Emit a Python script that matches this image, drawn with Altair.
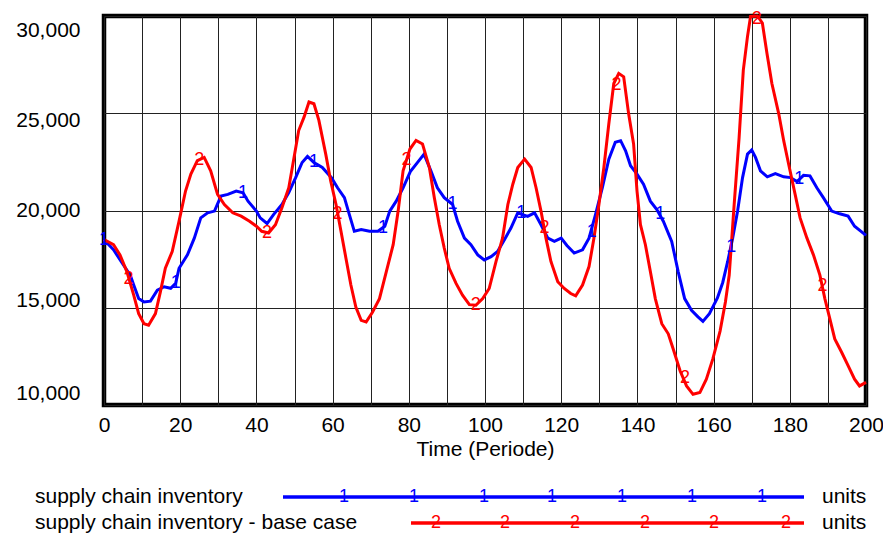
import altair as alt
import pandas as pd

# ---- data ----
blue_t = [0, 2.5, 5.1, 6.9, 7.8, 9.1, 10.5, 12.2, 14, 15.8, 17.5, 18.8, 19.7, 21.9, 23.7, 25.4, 27.2, 29,
          30.7, 32.5, 34.7, 36.5, 37.8, 40, 41, 42.8, 44.5, 46.7, 48.5, 50.3, 52, 53.4, 55.1, 57.3, 59.7,
          61.3, 63.1, 64.4, 65.7, 67.5, 69.7, 71.9, 73.7, 75, 76.7, 78.5, 80.4, 82.2, 84, 85.8, 87.5,
          89.3, 91.5, 92.8, 94.6, 96.3, 98.1, 99.8, 101.6, 103.3, 105.1, 106.8, 108.6, 109.9, 111.2, 113,
          114.7, 116.5, 118.2, 120, 121.5, 123.4, 125.6, 127.3, 129, 130.8, 132.5, 134.2, 135.6, 136.9,
          138.2, 139.9, 141.6, 143.4, 145.1, 146.8, 149, 150.7, 152.4, 154.2, 155.9, 157.2, 158.9, 161,
          162.4, 163.7, 165, 166.3, 167.6, 168.9, 170, 171, 172.3, 174.1, 176.2, 178.4, 180.2, 181.9,
          183.6, 185.3, 187.1, 188.8, 191, 193.1, 195.3, 197, 198.7, 200]
blue_v = [18500, 17980, 17200, 16680, 16170, 15475, 15300, 15340, 15900, 16080, 16000, 16250, 17030, 17720,
          18580, 19620, 19880, 19970, 20740, 20830, 21000, 20910, 20480, 19970, 19620, 19330, 19790, 20310,
          20920, 21690, 22470, 22780, 22470, 22210, 21690, 21170, 20660, 19790, 18930, 19020, 18930, 18930,
          19190, 19970, 20480, 21170, 22000, 22450, 22900, 22040, 21170, 20660, 20310, 19450, 18580, 18240,
          17720, 17460, 17630, 17890, 18500, 19100, 19880, 19790, 19700, 19880, 19270, 18580, 18410, 18580,
          18200, 17810, 17980, 18580, 19790, 21170, 22640, 23510, 23590, 23070, 22300, 21870, 21350, 20480,
          20050, 19450, 18410, 16860, 15470, 14870, 14530, 14300, 14700, 15500, 16300, 17380, 18580, 19970,
          21690, 22900, 23110, 22730, 22040, 21730, 21900, 21730, 21690, 21490, 21810, 21780, 21170, 20660,
          19970, 19830, 19710, 19190, 18930, 18720]

red_t = [0, 2.5, 4.2, 6, 7.8, 9.1, 10.5, 11.7, 13.5, 14.8, 16.1, 17.9, 19.7, 21.4, 22.8, 24.5, 26.3, 28,
         29.8, 31.6, 33.8, 36, 38.2, 40, 41.4, 43.2, 45, 46.7, 48.5, 49.8, 51.1, 52.5, 53.8, 55.1, 56.4,
         58.2, 59.5, 60.9, 62.2, 63.5, 64.8, 66.1, 67.5, 68.8, 70.5, 72.3, 74.1, 75.9, 77.2, 78.5, 80.3,
         81.9, 83.6, 85.4, 86.7, 88, 89.3, 90.6, 92.4, 94.1, 95.9, 97.6, 99.4, 101.1, 102.9, 104.6, 106,
         107.3, 108.6, 110.4, 112.1, 113.4, 114.7, 116, 117.3, 119.1, 120.8, 122.5, 123.8, 125.6, 127.3,
         128.6, 129.9, 131.2, 132.5, 133.8, 135.1, 136.4, 137.7, 139, 139.9, 140.8, 142.1, 143.4, 144.7,
         146.4, 148.1, 149.4, 151.2, 152.9, 154.6, 156.4, 158.1, 159.8, 161.7, 163.1, 164.1, 165.4, 166.7,
         167.8, 168.9, 169.7, 171.5, 172.8, 174, 175.3, 177.1, 178.4, 179.7, 181.4, 182.7, 184.5, 186.2,
         187.9, 189.2, 190.5, 191.8, 193.6, 195.3, 197, 198.3, 200]
red_v = [18500, 18240, 17720, 16860, 15650, 14700, 14180, 14100, 14700, 15820, 17030, 17890, 19450, 21000,
         21870, 22560, 22730, 22040, 20830, 20310, 19880, 19710, 19450, 19190, 18930, 18840, 19270, 20140,
         21170, 22640, 24110, 24800, 25580, 25490, 24630, 22900, 21520, 20310, 18930, 17550, 16170, 15040,
         14350, 14270, 14780, 15470, 16860, 18240, 19970, 22040, 23160, 23600, 23420, 22210, 20660, 19270,
         18070, 17030, 16250, 15650, 15160, 15130, 15470, 15990, 17380, 18580, 20310, 21350, 22210, 22640,
         22210, 21170, 19970, 18580, 17380, 16340, 15990, 15730, 15610, 16170, 17120, 18580, 20310, 22210,
         24460, 26530, 27050, 26870, 24970, 23420, 21000, 19270, 18240, 16860, 15470, 14180, 13660, 12880,
         11760, 10980, 10550, 10640, 11330, 12370, 13800, 15300, 16680, 20310, 23760, 27220, 28950, 29980,
         30000, 29640, 28080, 26530, 24970, 23590, 22380, 20830, 19620, 18580, 17720, 16680, 15470, 14440,
         13400, 12710, 12020, 11330, 10980, 11160]

blue_mark_t = [0, 18.8, 36.5, 55.1, 73.2, 91.5, 109.5, 128, 146, 164.6, 182.5]
blue_mark_v = [18500, 16250, 20910, 22470, 19100, 20310, 19850, 18900, 19800, 18100, 21600]
red_mark_t = [6.4, 25, 42.8, 61.3, 79.4, 97.6, 115.6, 134.5, 152.5, 171.3, 188.6]
red_mark_v = [16500, 22600, 18840, 19800, 22600, 15130, 19100, 26450, 11400, 29850, 16100]

series_names = ["supply chain inventory", "supply chain inventory - base case"]
series_units = ["units", "units"]
x_ticks = list(range(0, 201, 10))
y_ticks = [10000, 15000, 20000, 25000, 30000]

FONT = "Liberation Sans"
BLUE = "#0000ff"
RED = "#ff0000"
W, H = 762, 389

blue_df = pd.DataFrame({"t": blue_t, "v": blue_v})
red_df = pd.DataFrame({"t": red_t, "v": red_v})
bm_df = pd.DataFrame({"t": blue_mark_t, "v": blue_mark_v})
rm_df = pd.DataFrame({"t": red_mark_t, "v": red_mark_v})

xscale = alt.Scale(domain=[0, 200], nice=False, zero=False)
yscale = alt.Scale(domain=[10000, 30000], nice=False, zero=False)

xaxis = alt.Axis(values=x_ticks, title="Time (Periode)",
                 labelExpr="datum.value % 20 == 0 ? datum.label : ''",
                 grid=True, ticks=False, domain=False, labelFlush=False,
                 labelPadding=9, titlePadding=3)
yaxis = alt.Axis(values=y_ticks, title=None, format=",d", grid=True, ticks=False,
                 domain=False, labelPadding=24,
                 labelOffset={"condition": [
                     {"test": "datum.value == 30000", "value": 14},
                     {"test": "datum.value == 25000", "value": 7},
                     {"test": "datum.value == 15000", "value": -7},
                     {"test": "datum.value == 10000", "value": -12}],
                     "value": 0})

blue_line = alt.Chart(blue_df).mark_line(color=BLUE, strokeWidth=3).encode(
    x=alt.X("t:Q", scale=xscale, axis=xaxis),
    y=alt.Y("v:Q", scale=yscale, axis=yaxis))
red_line = alt.Chart(red_df).mark_line(color=RED, strokeWidth=3).encode(
    x=alt.X("t:Q", scale=xscale, axis=xaxis), y=alt.Y("v:Q", scale=yscale, axis=yaxis))
blue_marks = alt.Chart(bm_df).mark_text(color=BLUE, font=FONT, fontSize=18, baseline="middle").encode(
    x=alt.X("t:Q", scale=xscale, axis=xaxis), y=alt.Y("v:Q", scale=yscale, axis=yaxis), text=alt.value("1"))
red_marks = alt.Chart(rm_df).mark_text(color=RED, font=FONT, fontSize=18, baseline="middle").encode(
    x=alt.X("t:Q", scale=xscale, axis=xaxis), y=alt.Y("v:Q", scale=yscale, axis=yaxis), text=alt.value("2"))

# ---- legend (below the plot, in pixel positions relative to plot origin) ----
one = pd.DataFrame({"a": [0]})
ROW1, ROW2 = 481, 507
legend_layers = [
    alt.Chart(one).mark_text(align="left", baseline="middle", font=FONT, fontSize=21, color="black").encode(
        x=alt.value(-69), y=alt.value(ROW1), text=alt.value(series_names[0])),
    alt.Chart(one).mark_text(align="left", baseline="middle", font=FONT, fontSize=21, color="black").encode(
        x=alt.value(-69), y=alt.value(ROW2), text=alt.value(series_names[1])),
    alt.Chart(one).mark_text(align="left", baseline="middle", font=FONT, fontSize=21, color="black").encode(
        x=alt.value(718), y=alt.value(ROW1), text=alt.value(series_units[0])),
    alt.Chart(one).mark_text(align="left", baseline="middle", font=FONT, fontSize=21, color="black").encode(
        x=alt.value(718), y=alt.value(ROW2), text=alt.value(series_units[1])),
    alt.Chart(one).mark_rule(color=BLUE, strokeWidth=3.5).encode(
        x=alt.value(179), x2=alt.value(700), y=alt.value(ROW1)),
    alt.Chart(one).mark_rule(color=RED, strokeWidth=3.5).encode(
        x=alt.value(307), x2=alt.value(700), y=alt.value(ROW2)),
]
for px in [240, 310, 380, 448, 518, 588, 658]:
    legend_layers.append(alt.Chart(one).mark_text(color=BLUE, font=FONT, fontSize=18, baseline="middle").encode(
        x=alt.value(px), y=alt.value(ROW1), text=alt.value("1")))
for px in [332, 401, 471, 541, 610, 682]:
    legend_layers.append(alt.Chart(one).mark_text(color=RED, font=FONT, fontSize=18, baseline="middle").encode(
        x=alt.value(px), y=alt.value(ROW2), text=alt.value("2")))

chart = alt.layer(blue_line, red_line, blue_marks, red_marks, *legend_layers).properties(
    width=W, height=H,
    background="white",
    autosize=alt.AutoSizeParams(type="none"),
    padding={"left": 96, "top": 8, "right": 17, "bottom": 129},
).configure_view(stroke="black", strokeWidth=4.5).configure_axis(
    labelFont=FONT, labelFontSize=21, labelColor="black",
    titleFont=FONT, titleFontSize=21, titleFontWeight="normal", titleColor="black",
    gridColor="#222222", gridWidth=1, gridOpacity=1,
)

chart.save("out.html", embed_options={"renderer": "svg", "actions": False})
